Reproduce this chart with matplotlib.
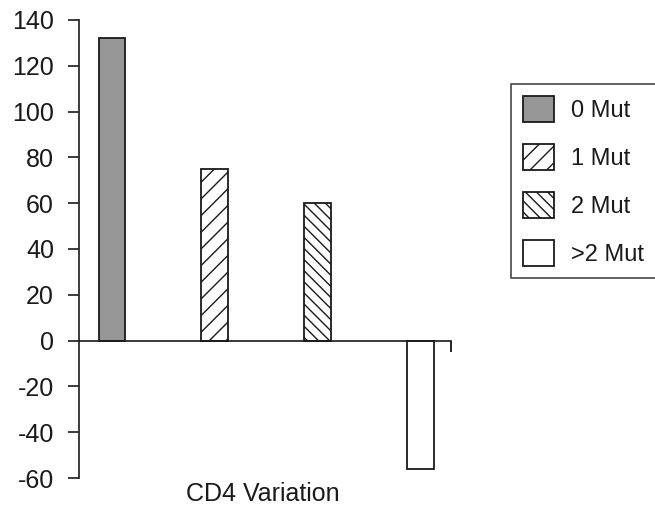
"""CD4 variation by number of mutations."""

import matplotlib

matplotlib.use("Agg")
import matplotlib.pyplot as plt

series = ["0 Mut", "1 Mut", "2 Mut", ">2 Mut"]
values = [132, 75, 60, -56]
yticks = [-60, -40, -20, 0, 20, 40, 60, 80, 100, 120, 140]
xlabel = "CD4 Variation"

plt.rcParams["font.family"] = ["Liberation Sans", "DejaVu Sans"]
plt.rcParams["hatch.linewidth"] = 1.0
plt.rcParams["axes.unicode_minus"] = False

fills = ["#969696", "white", "white", "white"]
hatches = [None, "//", "\\\\\\", None]

fig = plt.figure(figsize=(6.55, 5.05), dpi=100)
ax = fig.add_axes([79 / 655, 27 / 505, 372 / 655, 458 / 505])

for i, (name, val) in enumerate(zip(series, values)):
    ax.bar(i, val, width=0.26, color=fills[i], edgecolor="#1a1a1a",
           linewidth=1.3, hatch=hatches[i], label=name)

ax.set_xlim(-0.32, 3.30)
ax.set_ylim(-60, 140)
ax.set_yticks(yticks)
ax.tick_params(axis="y", direction="out", length=8, width=1.2, pad=10,
               labelsize=18, colors="#1a1a1a")
ax.set_xticks([3.30])
ax.set_xticklabels([""])
ax.tick_params(axis="x", direction="out", length=8, width=1.2)

ax.spines["top"].set_visible(False)
ax.spines["right"].set_visible(False)
ax.spines["bottom"].set_position(("data", 0))
for s in ("left", "bottom"):
    ax.spines[s].set_linewidth(1.2)
    ax.spines[s].set_color("#1a1a1a")

fig.text(263 / 655, 1 - 494 / 505, xlabel, ha="center", va="center",
         fontsize=18, color="#1a1a1a")

leg = fig.legend(loc="upper left",
                 bbox_to_anchor=(511 / 655, 1 - 280 / 505, 150 / 655, 196 / 505),
                 mode="expand", borderaxespad=0, frameon=True, fancybox=False,
                 fontsize=17, handlelength=1.3, handleheight=1.3,
                 handletextpad=0.75, labelspacing=0.95, borderpad=0.5)
leg.get_frame().set_edgecolor("#1a1a1a")
leg.get_frame().set_linewidth(1.2)
for t in leg.get_texts():
    t.set_color("#1a1a1a")

fig.savefig("out.png", dpi=100)
